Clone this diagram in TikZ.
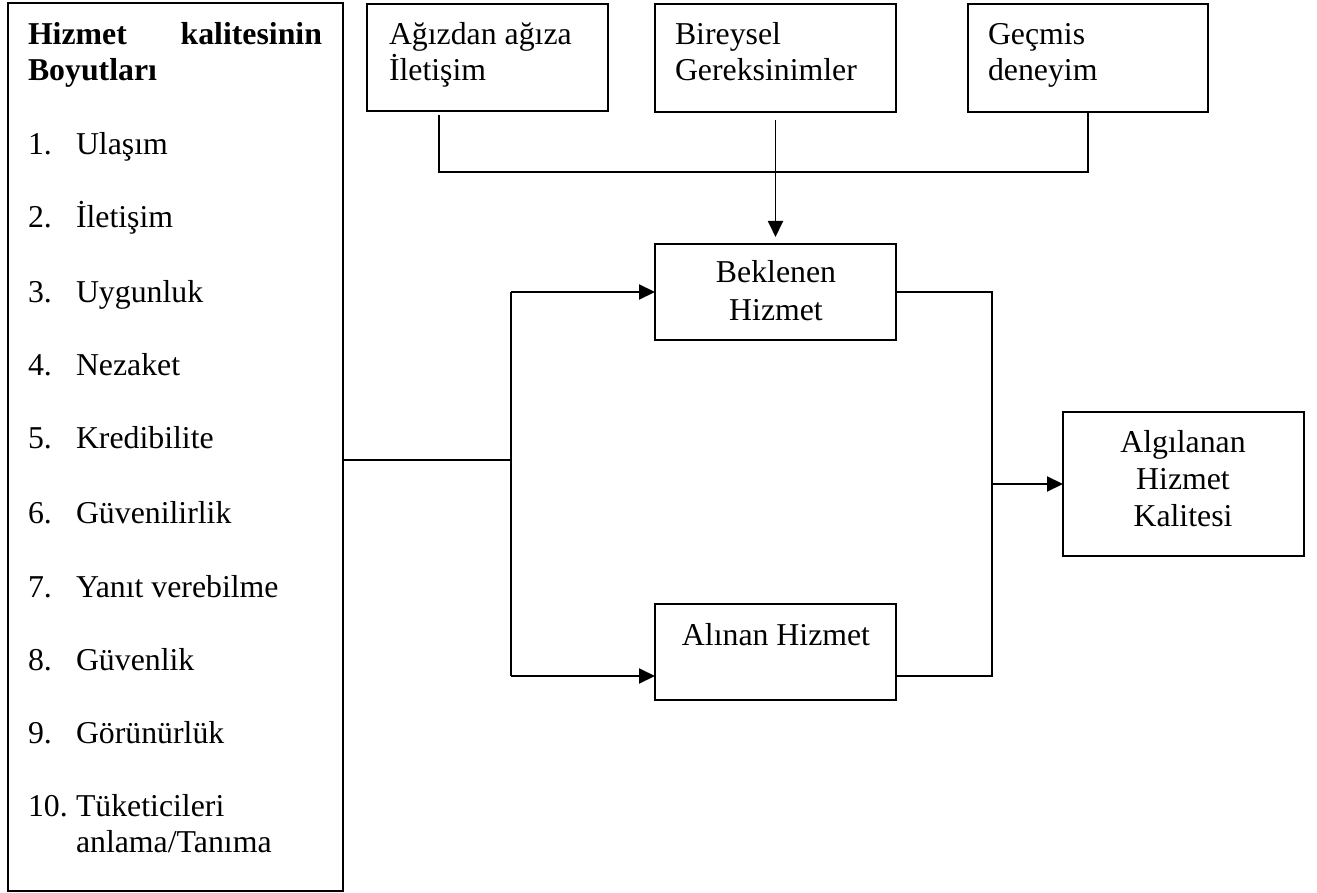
\documentclass[tikz,border=0pt]{standalone}
\usepackage{fontspec}
\setmainfont{Liberation Serif}
\usetikzlibrary{arrows.meta}
\tikzset{
  box/.style={draw, line width=1.9pt, inner sep=0pt, outer sep=0pt},
  lbl/.style={inner sep=0pt, outer sep=0pt, anchor=base west, font=\fontsize{31.8}{36}\selectfont},
  clbl/.style={lbl, anchor=base},
  rlbl/.style={lbl, anchor=base east},
  wire/.style={line width=1.9pt},
  arr/.style={wire, -{Triangle[length=16pt,width=15pt]}},
}
\begin{document}
\begin{tikzpicture}[x=1pt,y=-1pt]
\useasboundingbox (0,0) rectangle (1317,893);

% boxes
\node[box, minimum width=335pt, minimum height=888pt] (dims) at (175.5,447) {};
\node[box, minimum width=241pt, minimum height=107pt] (wom)  at (487.5,57.5) {};
\node[box, minimum width=241pt, minimum height=108pt] (need) at (775.5,58) {};
\node[box, minimum width=240pt, minimum height=108pt] (past) at (1088,58) {};
\node[box, minimum width=241pt, minimum height=96pt]  (exp)  at (775.5,292) {};
\node[box, minimum width=241pt, minimum height=96pt]  (recv) at (775.5,652) {};
\node[box, minimum width=241pt, minimum height=144pt] (perc) at (1183.5,484) {};

% left panel: dimensions of service quality
\node[lbl, font=\fontsize{31.8}{36}\selectfont\bfseries] (h1) at (28,45) {Hizmet};
\node[rlbl, font=\fontsize{31.8}{36}\selectfont\bfseries] (h2) at (322,45) {kalitesinin};
\node[lbl, font=\fontsize{31.8}{36}\selectfont\bfseries] (h3) at (28,81) {Boyutları};
\foreach \i/\t/\y in {1/Ulaşım/155, 2/İletişim/228, 3/Uygunluk/302, 4/Nezaket/375,
  5/Kredibilite/448, 6/Güvenilirlik/523, 7/Yanıt verebilme/597, 8/Güvenlik/670,
  9/Görünürlük/743, 10/Tüketicileri/816} {
  \node[lbl] (num\i) at (28,\y) {\i.};
  \node[lbl] (item\i) at (76,\y) {\t};
}
\node[lbl] (item10b) at (76,852) {anlama/Tanıma};

% top boxes
\node[lbl] (wom1) at (389,45) {Ağızdan ağıza};
\node[lbl] (wom2) at (389,81) {İletişim};
\node[lbl] (need1) at (675,45) {Bireysel};
\node[lbl] (need2) at (675,81) {Gereksinimler};
\node[lbl] (past1) at (988,45) {Geçmis};
\node[lbl] (past2) at (988,81) {deneyim};

% middle and right boxes
\node[clbl] (exp1) at (776,283) {Beklenen};
\node[clbl] (exp2) at (776,320) {Hizmet};
\node[clbl] (recv1) at (776,645) {Alınan Hizmet};
\node[clbl] (perc1) at (1183,452) {Algılanan};
\node[clbl] (perc2) at (1183,489) {Hizmet};
\node[clbl] (perc3) at (1183,526) {Kalitesi};

% junction points
\coordinate (ta) at (439,172);
\coordinate (tc) at (1088,172);
\coordinate (jm) at (511,460);
\coordinate (jt) at (511,292);
\coordinate (jb) at (511,676);
\coordinate (rt) at (992,292);
\coordinate (rb) at (992,676);
\coordinate (rm) at (992,484);

% expectation inputs
\draw[wire, shorten <=4pt] (wom.south -| ta) -- (ta) -- (tc) -- (past.south);
\draw[arr, shorten <=8pt, shorten >=7pt] (need.south) -- (exp.north);

% dimensions feed both expected and received service
\draw[wire] (dims.east |- jm) -- (jm);
\draw[wire] (jt) -- (jb);
\draw[arr] (jt) -- (exp.west);
\draw[arr] (jb) -- (recv.west |- jb);

% comparison gives perceived quality
\draw[wire] (exp.east) -- (rt) -- (rb) -- (recv.east |- rb);
\draw[arr] (rm) -- (perc.west);
\end{tikzpicture}
\end{document}
